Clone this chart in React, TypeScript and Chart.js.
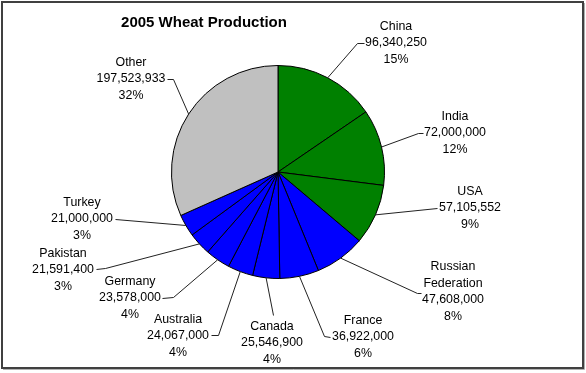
import React, { useEffect, useRef } from "react";
import { Chart, registerables } from "chart.js";

Chart.register(...registerables);

const TITLE = "2005 Wheat Production";
const COUNTRIES = [
  "China",
  "India",
  "USA",
  "Russian Federation",
  "France",
  "Canada",
  "Australia",
  "Germany",
  "Pakistan",
  "Turkey",
  "Other",
];
const PRODUCTION = [
  96340250, 72000000, 57105552, 47608000, 36922000, 25546900, 24067000,
  23578000, 21591400, 21000000, 197523933,
];
const NAME_LINES = [
  ["China"],
  ["India"],
  ["USA"],
  ["Russian", "Federation"],
  ["France"],
  ["Canada"],
  ["Australia"],
  ["Germany"],
  ["Pakistan"],
  ["Turkey"],
  ["Other"],
];
const SLICE_COLORS = [
  "#008000",
  "#008000",
  "#008000",
  "#0000FF",
  "#0000FF",
  "#0000FF",
  "#0000FF",
  "#0000FF",
  "#0000FF",
  "#0000FF",
  "#C0C0C0",
];

// Label layout: text block position (value line) and leader path, relative to pie centre
const LABEL_POS: [number, number][] = [
  [118, -129],
  [177, -39],
  [192, 36],
  [175, 128],
  [85, 165],
  [-6, 171],
  [-100, 164],
  [-148, 126],
  [-215, 98],
  [-196, 47],
  [-147, -93],
];
const LEADER_PATHS: [number, number][][] = [
  [[79, -129], [86, -129]],
  [[140, -39], [145, -39]],
  [[159, 36]],
  [[139, 121], [143, 121]],
  [[46, 164], [52, 165]],
  [[-5, 143]],
  [[-60, 163], [-67, 163]],
  [[-105, 125], [-116, 126]],
  [[-173, 96], [-182, 97]],
  [[-163, 47]],
  [[-105, -93], [-111, -93]],
];

const W = 586;
const H = 373;
const FONT = "Arial, 'Liberation Sans', sans-serif";

const decorPlugin = {
  id: "decor",
  beforeDraw(chart: any) {
    const ctx = chart.ctx;
    ctx.save();
    ctx.fillStyle = "#ffffff";
    ctx.fillRect(0, 0, W, H);
    ctx.restore();
  },
  afterDraw(chart: any) {
    const ctx = chart.ctx;
    const meta = chart.getDatasetMeta(0);
    const data = chart.data.datasets[0].data as number[];
    const total = data.reduce((a, b) => a + b, 0);
    ctx.save();
    // frame
    ctx.strokeStyle = "#b0b0b0";
    ctx.lineWidth = 1;
    ctx.beginPath();
    ctx.moveTo(3, 369.5);
    ctx.lineTo(584.5, 369.5);
    ctx.lineTo(584.5, 3);
    ctx.stroke();
    ctx.strokeStyle = "#404040";
    ctx.lineWidth = 2;
    ctx.strokeRect(2, 2, 581, 366);

    // title
    ctx.fillStyle = "#000000";
    ctx.font = `bold 15px ${FONT}`;
    ctx.textAlign = "center";
    ctx.textBaseline = "middle";
    ctx.fillText(TITLE, 204, 23);

    // labels
    meta.data.forEach((arc: any, i: number) => {
      const { x, y, startAngle, endAngle, outerRadius } = arc.getProps(
        ["x", "y", "startAngle", "endAngle", "outerRadius"],
        true
      );
      const mid = (startAngle + endAngle) / 2;
      const px = x + Math.cos(mid) * outerRadius;
      const py = y + Math.sin(mid) * outerRadius;
      ctx.strokeStyle = "#222222";
      ctx.lineWidth = 1;
      ctx.beginPath();
      ctx.moveTo(px, py);
      LEADER_PATHS[i].forEach(([dx, dy]) => ctx.lineTo(x + dx + 0.5, y + dy + 0.5));
      ctx.stroke();

      const names = NAME_LINES[i];
      const value = data[i];
      const lines = [
        ...names,
        value.toLocaleString("en-US"),
        Math.round((value / total) * 100) + "%",
      ];
      const lh = 16.5;
      const [tx, ty] = LABEL_POS[i];
      const valueIdx = names.length;
      ctx.font = `12.4px ${FONT}`;
      ctx.fillStyle = "#000000";
      ctx.textAlign = "center";
      ctx.textBaseline = "middle";
      lines.forEach((ln, k) => {
        ctx.fillText(ln, x + tx, y + ty + (k - valueIdx) * lh);
      });
    });
    ctx.restore();
  },
};

export default function App() {
  const ref = useRef<HTMLCanvasElement | null>(null);
  useEffect(() => {
    if (!ref.current) return;
    const chart = new Chart(ref.current, {
      type: "pie",
      data: {
        labels: COUNTRIES,
        datasets: [
          {
            data: PRODUCTION,
            backgroundColor: SLICE_COLORS,
            borderColor: "#000000",
            borderWidth: 1,
            hoverOffset: 0,
          },
        ],
      },
      options: {
        responsive: false,
        animation: false,
        devicePixelRatio: 1,
        layout: { padding: { top: 65, bottom: 94, left: 171, right: 201 } },
        plugins: {
          legend: { display: false },
          tooltip: { enabled: false },
          title: { display: false },
        },
        events: [],
      },
      plugins: [decorPlugin],
    });
    return () => chart.destroy();
  }, []);
  return (
    <div style={{ position: "fixed", left: 0, top: 0, width: W, height: H }}>
      <canvas ref={ref} width={W} height={H} style={{ display: "block" }} />
    </div>
  );
}
